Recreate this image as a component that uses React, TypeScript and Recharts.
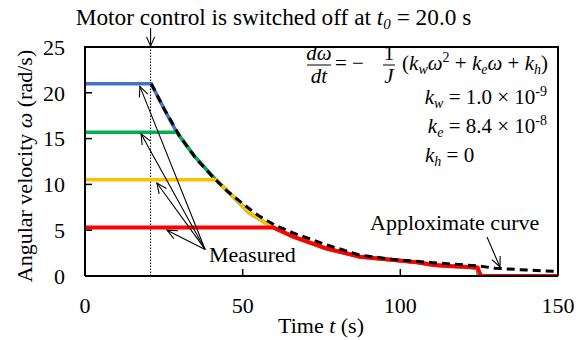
import React from 'react';
import { LineChart, Line, XAxis, YAxis, ReferenceLine } from 'recharts';

const W = 579;
const H = 340;
const MARGIN = { top: 47, right: 21, bottom: 0, left: 0 };
const Y_AXIS_W = 85;
const X_AXIS_H = 64;
const X_MIN = 0, X_MAX = 150, Y_MIN = 0, Y_MAX = 25;

const xTicks = [0, 50, 100, 150];
const yTicks = [0, 5, 10, 15, 20, 25];
const switchOffTime = 20.8;

// shared measured decay after switch-off
const decayTime = [21, 25.9, 29.1, 34.9, 41.5, 47, 52.3, 59.7, 66, 76.6, 87.2, 97.8, 105.2, 110.5, 115, 120, 124.5];
const decayOmega = [21, 17.7, 15.7, 13.0, 10.5, 8.65, 6.84, 5.3, 4.3, 3.0, 2.1, 1.75, 1.49, 1.2, 1.1, 1.0, 0.9];

// four measured runs
const initialOmega = [21, 15.7, 10.5, 5.3];
const mergeTime = [21, 29.1, 41.5, 59.7];
const stopTime = [124.7, 125.0, 125.3, 125.6];
const endTime = [125.7, 125.7, 125.7, 150];
const colors = ['#4472C4', '#00B050', '#FFC000', '#FF0000'];

// approximate curve
const approxTime = [21, 25, 30, 35, 40, 45, 50, 55, 60, 66, 76.6, 87, 97.8, 110.5, 124.7, 130, 140, 150];
const approxOmega = [21, 18.3, 15.3, 12.9, 11.0, 9.3, 7.9, 6.6, 5.6, 4.7, 3.4, 2.3, 1.8, 1.45, 1.1, 0.85, 0.65, 0.5];

const series = initialOmega.map((w0, i) => {
  const pts: { t: number; w: number }[] = [{ t: 0, w: w0 }];
  decayTime.forEach((t, k) => {
    if (t >= mergeTime[i] - 1e-9) pts.push({ t, w: decayOmega[k] });
  });
  pts.push({ t: stopTime[i], w: 0 });
  pts.push({ t: endTime[i], w: 0 });
  return pts;
});
const approx = approxTime.map((t, k) => ({ t, w: approxOmega[k] }));

const PL = MARGIN.left + Y_AXIS_W;
const PT = MARGIN.top;
const PW = W - PL - MARGIN.right;
const PH = H - PT - X_AXIS_H;
const px = (t: number) => PL + ((t - X_MIN) / (X_MAX - X_MIN)) * PW;
const py = (w: number) => PT + ((Y_MAX - w) / (Y_MAX - Y_MIN)) * PH;

const FONT = '"Liberation Serif", "Times New Roman", serif';

function Arrow({ x1, y1, x2, y2, head = 11 }: { x1: number; y1: number; x2: number; y2: number; head?: number }) {
  const a = Math.atan2(y2 - y1, x2 - x1);
  const s = 0.42;
  const hx1 = x2 - head * Math.cos(a - s), hy1 = y2 - head * Math.sin(a - s);
  const hx2 = x2 - head * Math.cos(a + s), hy2 = y2 - head * Math.sin(a + s);
  return (
    <g stroke="#000" strokeWidth={1.1} fill="none">
      <line x1={x1} y1={y1} x2={x2} y2={y2} />
      <polyline points={`${hx1},${hy1} ${x2},${y2} ${hx2},${hy2}`} />
    </g>
  );
}

function XTick(props: any) {
  const { x, y, payload } = props;
  return (
    <text x={x} y={y} dy="0.71em" textAnchor="middle" fontFamily={FONT} fontSize={22} fill="#000">
      {payload.value}
    </text>
  );
}
function YTick(props: any) {
  const { x, y, payload } = props;
  return (
    <text x={x} y={y} dy="0.35em" textAnchor="end" fontFamily={FONT} fontSize={22} fill="#000">
      {payload.value}
    </text>
  );
}

const measuredTail = { t: 38.1, w: 2.9 };
const measuredTips = [
  { t: 17.4, w: 20.7 },
  { t: 17.8, w: 15.5 },
  { t: 22.8, w: 10.15 },
  { t: 26.0, w: 5.0 },
];

export default function App() {
  const sub = 14;
  return (
    <div style={{ position: 'absolute', left: 0, top: 0, width: W, height: H, background: '#fff', fontFamily: FONT }}>
      <LineChart width={W} height={H} margin={MARGIN}>
        <XAxis
          type="number"
          dataKey="t"
          domain={[X_MIN, X_MAX]}
          ticks={xTicks}
          height={X_AXIS_H}
          tickSize={-7}
          tickMargin={28}
          axisLine={{ stroke: '#000', strokeWidth: 2 }}
          tickLine={{ stroke: '#000', strokeWidth: 1.5 }}
          tick={<XTick />}
          allowDataOverflow
        />
        <YAxis
          type="number"
          domain={[Y_MIN, Y_MAX]}
          ticks={yTicks}
          width={Y_AXIS_W}
          tickSize={-7}
          tickMargin={27}
          axisLine={{ stroke: '#000', strokeWidth: 2 }}
          tickLine={{ stroke: '#000', strokeWidth: 1.5 }}
          tick={<YTick />}
          allowDataOverflow
        />
        <ReferenceLine x={switchOffTime} stroke="#000" strokeWidth={1} strokeDasharray="1.5 1.5" />
        {series.map((d, i) => (
          <Line
            key={i}
            data={d}
            dataKey="w"
            type="linear"
            stroke={colors[i]}
            strokeWidth={i === 3 ? 4 : 3.5}
            dot={false}
            activeDot={false}
            isAnimationActive={false}
          />
        ))}
        <Line
          data={approx}
          dataKey="w"
          type="linear"
          stroke="#000"
          strokeWidth={3}
          strokeDasharray="8 5"
          dot={false}
          activeDot={false}
          isAnimationActive={false}
        />
      </LineChart>
      <svg
        width={W}
        height={H}
        style={{ position: 'absolute', left: 0, top: 0, pointerEvents: 'none' }}
        fontFamily={FONT}
      >
        {/* frame top & right */}
        <polyline
          points={`${px(X_MIN) - 1},${py(Y_MAX)} ${px(X_MAX)},${py(Y_MAX)} ${px(X_MAX)},${py(Y_MIN) - 1}`}
          fill="none"
          stroke="#000"
          strokeWidth={2}
        />

        {/* title */}
        <text x={273.5} y={25} textAnchor="middle" fontSize={23.3} fill="#000">
          Motor control is switched off at <tspan fontStyle="italic">t</tspan>
          <tspan fontSize={15} dy={4} fontStyle="italic">0</tspan>
          <tspan dy={-4}> = 20.0 s</tspan>
        </text>
        <Arrow x1={px(switchOffTime)} y1={28} x2={px(switchOffTime)} y2={PT - 1} head={10} />

        {/* axis titles */}
        <text x={321} y={333} textAnchor="middle" fontSize={22} fill="#000">
          Time <tspan fontStyle="italic">t</tspan> (s)
        </text>
        <text transform={`translate(32, ${166}) rotate(-90)`} textAnchor="middle" fontSize={22} fill="#000">
          Angular velocity <tspan fontStyle="italic">ω</tspan> (rad/s)
        </text>

        {/* equation */}
        <g fill="#000" fontSize={21}>
          <text x={319} y={60} textAnchor="middle" fontStyle="italic">dω</text>
          <line x1={307} y1={65} x2={331} y2={65} stroke="#000" strokeWidth={1} />
          <text x={319} y={83} textAnchor="middle" fontStyle="italic">dt</text>
          <text x={335} y={70}>= −</text>
          <text x={389} y={60} textAnchor="middle">1</text>
          <line x1={383} y1={65} x2={395} y2={65} stroke="#000" strokeWidth={1} />
          <text x={389} y={83} textAnchor="middle" fontStyle="italic">J</text>
          <text x={548} y={70} textAnchor="end">
            (<tspan fontStyle="italic">k</tspan>
            <tspan fontSize={sub} dy={4} fontStyle="italic">w</tspan>
            <tspan dy={-4} fontStyle="italic">ω</tspan>
            <tspan fontSize={sub} dy={-8}>2</tspan>
            <tspan dy={8}> + </tspan>
            <tspan fontStyle="italic">k</tspan>
            <tspan fontSize={sub} dy={4} fontStyle="italic">e</tspan>
            <tspan dy={-4} fontStyle="italic">ω</tspan>
            <tspan> + </tspan>
            <tspan fontStyle="italic">k</tspan>
            <tspan fontSize={sub} dy={4} fontStyle="italic">h</tspan>
            <tspan dy={-4}>)</tspan>
          </text>
          <text x={547} y={104} textAnchor="end">
            <tspan fontStyle="italic">k</tspan>
            <tspan fontSize={sub} dy={4} fontStyle="italic">w</tspan>
            <tspan dy={-4}> = 1.0 × 10</tspan>
            <tspan fontSize={sub} dy={-8}>-9</tspan>
          </text>
          <text x={547} y={133} textAnchor="end">
            <tspan fontStyle="italic">k</tspan>
            <tspan fontSize={sub} dy={4} fontStyle="italic">e</tspan>
            <tspan dy={-4}> = 8.4 × 10</tspan>
            <tspan fontSize={sub} dy={-8}>-8</tspan>
          </text>
          <text x={425} y={162}>
            <tspan fontStyle="italic">k</tspan>
            <tspan fontSize={sub} dy={4} fontStyle="italic">h</tspan>
            <tspan dy={-4}> = 0</tspan>
          </text>
        </g>

        {/* annotations */}
        {measuredTips.map((p, i) => (
          <Arrow key={i} x1={px(measuredTail.t)} y1={py(measuredTail.w)} x2={px(p.t)} y2={py(p.w)} />
        ))}
        <text x={209} y={262} fontSize={22} fill="#000">Measured</text>
        <text x={370} y={230} fontSize={22} fill="#000">Apploximate curve</text>
        <Arrow x1={487} y1={237} x2={500} y2={267} />
      </svg>
    </div>
  );
}
